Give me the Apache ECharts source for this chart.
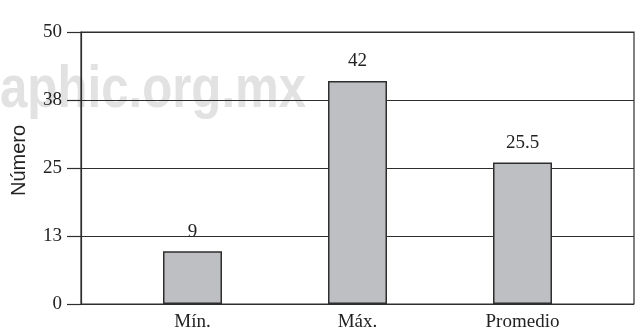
<!DOCTYPE html>
<html>
<head>
<meta charset="utf-8">
<script src="https://cdn.jsdelivr.net/npm/echarts@6/dist/echarts.min.js"></script>
<style>
  html, body { margin: 0; padding: 0; background: #fff; }
  #chart { width: 637px; height: 334px; }
</style>
</head>
<body>
<div id="chart"></div>
<script>
// datos
var categorias = ['Mín.', 'Máx.', 'Promedio'];
var valores = [9.7, 41, 26];          // altura de las barras
var etiquetas = ['9', '42', '25.5'];  // texto sobre cada barra
var yMin = 0, yMax = 50, yPaso = 12.5;

var serif = '"Liberation Serif", "DejaVu Serif", serif';
var lineColor = '#2e2e2e';

var myChart = echarts.init(document.getElementById('chart'));

var option = {
  animation: false,
  backgroundColor: '#fff',
  graphic: [{
    // marca de agua
    type: 'text',
    x: 0,
    y: 60,
    scaleX: 0.82,
    z: -10,
    style: {
      text: 'aphic.org.mx',
      font: 'bold 60px "Liberation Sans", Arial, sans-serif',
      fill: '#e2e2e2'
    }
  }],
  grid: [
    // marco
    { left: 81, right: 3, top: 32, bottom: 30, show: true, borderColor: lineColor, borderWidth: 1.2 },
    // barras
    { left: 110, right: 32, top: 32, bottom: 30 }
  ],
  xAxis: [
    { gridIndex: 0, type: 'value', show: false, min: 0, max: 1 },
    {
      gridIndex: 1,
      type: 'category',
      data: categorias,
      axisLine: { show: false },
      axisTick: { show: false },
      axisLabel: { margin: 9, color: '#222', fontFamily: serif, fontSize: 19 }
    }
  ],
  yAxis: [
    {
      gridIndex: 0,
      type: 'value',
      min: yMin,
      max: yMax,
      interval: yPaso,
      name: 'Número',
      nameLocation: 'middle',
      nameGap: 52,
      nameTextStyle: {
        fontFamily: 'Liberation Sans, Arial, sans-serif',
        fontSize: 20,
        color: '#222',
        padding: [0, 0, 0, 15]
      },
      axisLine: { show: true, lineStyle: { color: lineColor, width: 1.2 } },
      axisTick: { show: true, inside: false, length: 14, lineStyle: { color: lineColor, width: 1.2 } },
      axisLabel: {
        margin: 19,
        color: '#222',
        fontFamily: serif,
        fontSize: 19,
        formatter: function (v) { return Math.round(v); }
      },
      splitLine: { show: true, lineStyle: { color: lineColor, width: 1.2 } }
    },
    { gridIndex: 1, type: 'value', min: yMin, max: yMax, show: false, splitLine: { show: false } }
  ],
  series: [{
    type: 'bar',
    xAxisIndex: 1,
    yAxisIndex: 1,
    data: valores,
    barWidth: 59,
    itemStyle: { color: '#bebfc3', borderColor: lineColor, borderWidth: 1.5 },
    label: {
      show: true,
      position: 'top',
      distance: 10,
      color: '#222',
      fontFamily: serif,
      fontSize: 19,
      formatter: function (p) { return etiquetas[p.dataIndex]; }
    }
  }]
};

myChart.setOption(option);
</script>
</body>
</html>
